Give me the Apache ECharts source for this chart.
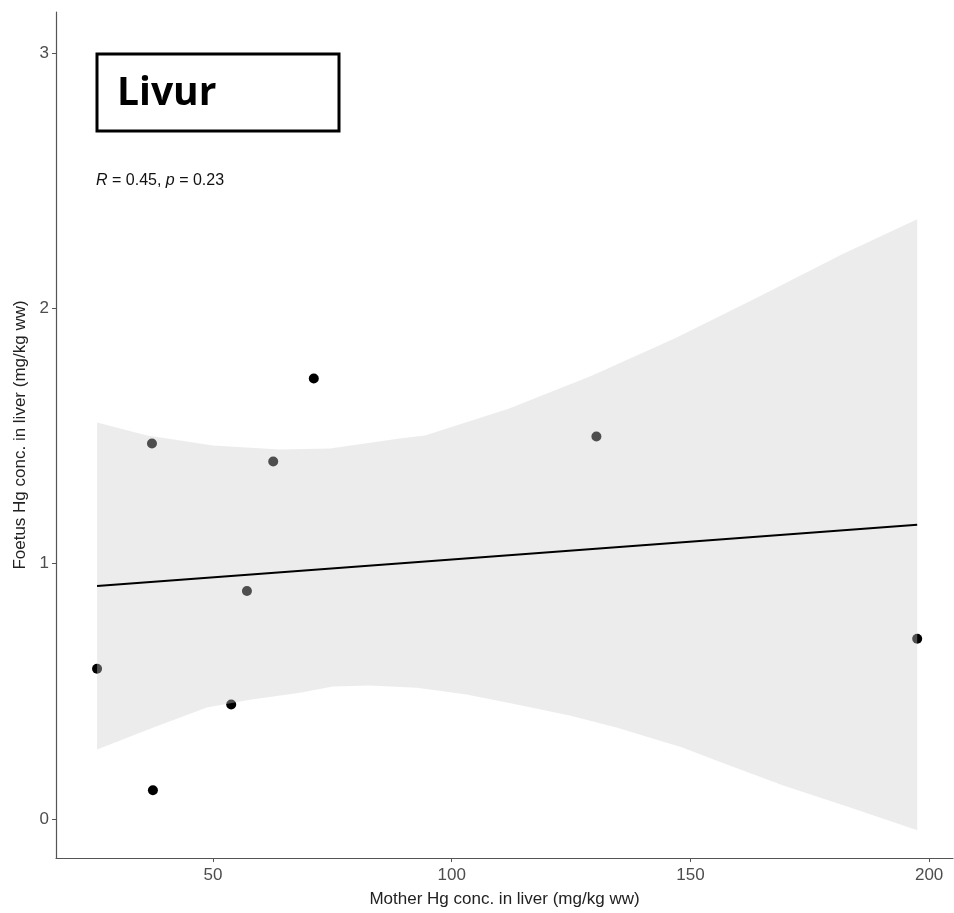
<!DOCTYPE html>
<html>
<head>
<meta charset="utf-8">
<title>Livur</title>
<script src="https://cdn.jsdelivr.net/npm/echarts@6/dist/echarts.min.js"></script>
<style>
  html, body { margin: 0; padding: 0; background: #fff; }
  #chart { width: 954px; height: 913px; }
</style>
</head>
<body>
<div id="chart"></div>
<script>
// mother vs foetus Hg in liver
var motherHg = [25.7, 37.4, 37.2, 53.8, 57.1, 62.6, 71.1, 130.3, 197.5];
var foetusHg = [0.589, 0.113, 1.471, 0.449, 0.893, 1.40, 1.725, 1.498, 0.706];

// fitted line (lm) end points
var fitX = [25.7, 197.5];
var fitY = [0.913, 1.153];

// confidence band edges
var upperX = [25.7, 36.2, 50, 64, 74.5, 89.1, 94.4, 111.9, 129.3, 146.9, 164.2, 181.8, 197.5];
var upperY = [1.553, 1.502, 1.463, 1.447, 1.451, 1.490, 1.502, 1.607, 1.736, 1.884, 2.044, 2.212, 2.349];
var lowerX = [25.7, 37.5, 48.7, 57.7, 68.2, 75.1, 82.9, 92.7, 103.1, 113.6, 124.7, 134.5, 148.3, 155.4, 169.3, 183.3, 197.5];
var lowerY = [0.273, 0.359, 0.437, 0.468, 0.495, 0.519, 0.523, 0.515, 0.488, 0.449, 0.406, 0.359, 0.281, 0.230, 0.133, 0.047, -0.043];

var xTicks = [50, 100, 150, 200];
var yTicks = [0, 1, 2, 3];

var myChart = echarts.init(document.getElementById('chart'));

var points = motherHg.map(function (v, i) { return [v, foetusHg[i]]; });
var fitLine = fitX.map(function (v, i) { return [v, fitY[i]]; });

var axisCol = '#555';
var labelCol = '#4d4d4d';

var option = {
  animation: false,
  backgroundColor: '#fff',
  grid: { left: 56, right: 1, top: 12, bottom: 52 },
  xAxis: {
    type: 'value',
    min: 17.1,
    max: 205,
    name: 'Mother Hg conc. in liver (mg/kg ww)',
    nameLocation: 'middle',
    nameGap: 33,
    nameTextStyle: { fontFamily: 'Liberation Sans', fontSize: 17, color: '#222' },
    axisLine: { show: true, onZero: false, lineStyle: { color: axisCol, width: 1.2 } },
    axisTick: { show: true, length: 4, customValues: xTicks, lineStyle: { color: axisCol } },
    axisLabel: { customValues: xTicks, margin: 9, fontFamily: 'Liberation Sans', fontSize: 17, color: labelCol },
    splitLine: { show: false }
  },
  yAxis: {
    type: 'value',
    min: -0.152,
    max: 3.16,
    name: 'Foetus Hg conc. in liver (mg/kg ww)',
    nameLocation: 'middle',
    nameGap: 26,
    nameTextStyle: { fontFamily: 'Liberation Sans', fontSize: 17, color: '#222' },
    axisLine: { show: true, onZero: false, lineStyle: { color: axisCol, width: 1.2 } },
    axisTick: { show: true, length: 4, customValues: yTicks, lineStyle: { color: axisCol } },
    axisLabel: { customValues: yTicks, margin: 7, fontFamily: 'Liberation Sans', fontSize: 17, color: labelCol },
    splitLine: { show: false }
  },
  graphic: [
    {
      type: 'rect',
      shape: { x: 97, y: 54, width: 242, height: 77 },
      style: { fill: '#fff', stroke: '#000', lineWidth: 3 },
      z: 10
    },
    {
      type: 'text',
      x: 117, y: 94,
      style: {
        text: 'Livur',
        fontFamily: 'Open Sans',
        fontWeight: 'bold',
        fontSize: 39,
        fill: '#000',
        verticalAlign: 'middle'
      },
      z: 11
    },
    {
      type: 'text',
      x: 96, y: 181,
      style: {
        text: '{i|R} = 0.45, {i|p} = 0.23',
        fontFamily: 'Liberation Sans',
        fontSize: 16,
        fill: '#111',
        verticalAlign: 'middle',
        rich: {
          i: { fontFamily: 'Liberation Sans', fontStyle: 'italic', fontSize: 16, fill: '#111' }
        }
      },
      z: 11
    }
  ],
  series: [
    {
      name: 'points',
      type: 'scatter',
      data: points,
      symbolSize: 10,
      itemStyle: { color: '#000', opacity: 1 },
      z: 1
    },
    {
      name: 'band',
      type: 'custom',
      data: [0],
      z: 2,
      silent: true,
      renderItem: function (params, api) {
        var pts = [];
        for (var i = 0; i < upperX.length; i++) pts.push(api.coord([upperX[i], upperY[i]]));
        for (var j = lowerX.length - 1; j >= 0; j--) pts.push(api.coord([lowerX[j], lowerY[j]]));
        return {
          type: 'polygon',
          shape: { points: pts },
          style: { fill: 'rgba(205,205,205,0.38)', stroke: null }
        };
      }
    },
    {
      name: 'fit',
      type: 'line',
      data: fitLine,
      showSymbol: false,
      lineStyle: { color: '#000', width: 2 },
      z: 3
    }
  ]
};

option && myChart.setOption(option);
</script>
</body>
</html>
